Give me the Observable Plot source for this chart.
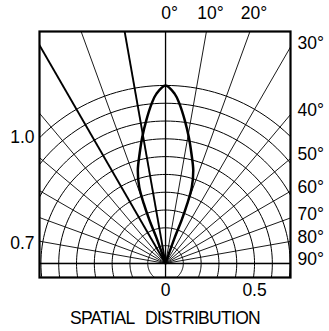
<!DOCTYPE html>
<html>
<head>
<meta charset="utf-8">
<script src="https://cdn.jsdelivr.net/npm/d3@7"></script>
<script src="https://cdn.jsdelivr.net/npm/@observablehq/plot@0.6"></script>
<style>
  html, body { margin: 0; padding: 0; background: #fff; }
  svg { display: block; }
</style>
</head>
<body>
<div id="chart"></div>
<script>
// ---- data ----
const rayAngles = [-90, -80, -70, -60, -50, -40, -30, -20, -10, 0, 10, 20, 30, 40, 50, 60, 70, 80, 90];
const thickRayAngles = [-30, -10];
const circleRadii = [0.1, 0.2, 0.3, 0.4, 0.5, 0.6, 0.7, 0.8, 0.9, 1.0];
// radiation pattern: angle (deg) vs relative intensity, one half (mirrored)
const curveAngles = [0, 3.1, 5, 7.7, 10.5, 13.3, 16.6, 19, 20, 20.4, 19.5, 19, 19];
const curveIntensity = [1, 0.954, 0.9, 0.81, 0.72, 0.633, 0.545, 0.453, 0.357, 0.258, 0.157, 0.058, 0];
const topTickAngles = [0, 10, 20];
const rightTickAngles = [30, 40, 50, 60, 70, 80, 90];
const leftTickValues = [0.71, 0.112];
const leftTickLabels = ["1.0", "0.7"];
const bottomTickValues = [0, 0.5];
const bottomTickLabels = ["0", "0.5"];
const title = "SPATIAL DISTRIBUTION";

// ---- geometry ----
const XMIN = -0.708, XMAX = 0.702, YMIN = -0.079, YMAX = 1.303;
const rad = d => d * Math.PI / 180;

const rays = rayAngles.map(a => ({
  a, x1: 0, y1: 0, x2: 3 * Math.sin(rad(a)), y2: 3 * Math.cos(rad(a)),
  thick: thickRayAngles.includes(a)
}));

const circles = [];
for (const r of circleRadii) {
  for (let t = 0; t <= 360; t += 2) {
    circles.push({r, x: r * Math.sin(rad(t)), y: r * Math.cos(rad(t))});
  }
}

const curve = [];
for (let i = curveAngles.length - 1; i >= 0; i--) {
  curve.push({a: -curveAngles[i], r: curveIntensity[i]});
}
for (let i = 1; i < curveAngles.length; i++) {
  curve.push({a: curveAngles[i], r: curveIntensity[i]});
}

const topTickX = topTickAngles.map(a => YMAX * Math.tan(rad(a)));
const rightTickY = rightTickAngles.map(a => XMAX * Math.cos(rad(a)) / Math.sin(rad(a)));

const lookup = (vals, labels) => d => {
  const i = vals.findIndex(v => Math.abs(v - d) < 1e-9);
  return i >= 0 ? labels[i] : "";
};

const chart = Plot.plot({
  width: 329,
  height: 331,
  marginLeft: 39,
  marginRight: 39,
  marginTop: 31,
  marginBottom: 54,
  style: {fontFamily: "'Liberation Sans', Arial, sans-serif", fontSize: "17.5px", color: "#000", background: "#fff", overflow: "visible"},
  x: {domain: [XMIN, XMAX]},
  y: {domain: [YMIN, YMAX]},
  marks: [
    Plot.line(circles, {x: "x", y: "y", z: "r", stroke: "#000", strokeWidth: 1, clip: true}),
    Plot.link(rays.filter(d => !d.thick), {x1: "x1", y1: "y1", x2: "x2", y2: "y2", stroke: "#000", strokeWidth: 0.9, clip: true}),
    Plot.link(rays.filter(d => d.thick), {x1: "x1", y1: "y1", x2: "x2", y2: "y2", stroke: "#000", strokeWidth: 1.9, clip: true}),
    Plot.ruleX([0], {stroke: "#000", strokeWidth: 1.3}),
    Plot.ruleY([0], {stroke: "#000", strokeWidth: 1.6}),
    Plot.line(curve, {x: d => d.r * Math.sin(rad(d.a)), y: d => d.r * Math.cos(rad(d.a)), curve: "catmull-rom", stroke: "#000", strokeWidth: 2.5}),
    Plot.frame({stroke: "#000", strokeWidth: 2.2}),
    Plot.axisX(topTickX, {anchor: "top", tickSize: 0, tickPadding: 13, dx: 4, tickFormat: lookup(topTickX, topTickAngles.map(a => a + "°"))}),
    Plot.axisX(bottomTickValues, {anchor: "bottom", tickSize: 0, tickPadding: 6, tickFormat: lookup(bottomTickValues, bottomTickLabels)}),
    Plot.axisY(leftTickValues, {anchor: "left", tickSize: 0, tickPadding: 5, tickFormat: lookup(leftTickValues, leftTickLabels)}),
    Plot.axisY(rightTickY, {anchor: "right", tickSize: 0, tickPadding: 7, dy: -4, tickFormat: lookup(rightTickY, rightTickAngles.map(a => a + "°"))}),
    Plot.text([title], {frameAnchor: "bottom", dy: 46, text: d => d, fontSize: 17.5, fill: "#000"})
  ]
});
chart.querySelectorAll("text").forEach(t => {
  if (t.textContent === title) { t.style.letterSpacing = "-0.7px"; t.style.wordSpacing = "7px"; }
});
document.getElementById("chart").appendChild(chart);
</script>
</body>
</html>
